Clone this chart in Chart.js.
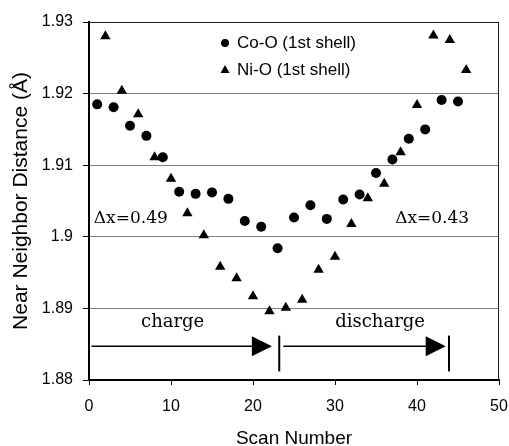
<!DOCTYPE html>
<html>
<head>
<meta charset="utf-8">
<script src="https://cdn.jsdelivr.net/npm/chart.js@4.4.1/dist/chart.umd.min.js"></script>
<style>
  body { margin: 0; background: #fff; }
  #wrap { width: 509px; height: 446px; }
</style>
</head>
<body>
<div id="wrap"><canvas id="showchart" width="509" height="446"></canvas></div>
<script>
// Co-O first shell, odd scans
var coScan = [1, 3, 5, 7, 9, 11, 13, 15, 17, 19, 21, 23, 25, 27, 29, 31, 33, 35, 37, 39, 41, 43, 45];
var coDist = [1.9185, 1.9181, 1.9155, 1.9141, 1.9111, 1.9063, 1.9060, 1.9062, 1.9053, 1.9022, 1.9014, 1.8984,
              1.9027, 1.9044, 1.9025, 1.9052, 1.9059, 1.9089, 1.9108, 1.9137, 1.9150, 1.9191, 1.9189];
// Ni-O first shell, even scans
var niScan = [2, 4, 6, 8, 10, 12, 14, 16, 18, 20, 22, 24, 26, 28, 30, 32, 34, 36, 38, 40, 42, 44, 46];
var niDist = [1.9280, 1.9204, 1.9171, 1.9111, 1.9081, 1.9033, 1.9002, 1.8958, 1.8942, 1.8917, 1.8896, 1.8901,
              1.8912, 1.8954, 1.8972, 1.9018, 1.9054, 1.9074, 1.9118, 1.9184, 1.9281, 1.9275, 1.9233];

var seriesNames = ["Co-O (1st shell)", "Ni-O (1st shell)"];
var xTicks = [0, 10, 20, 30, 40, 50];
var yTicks = [1.88, 1.89, 1.90, 1.91, 1.92, 1.93];

// annotation texts in data coordinates
var labels = [
  {text: "\u0394x=0.49", x: 5.1, y: 1.9026},
  {text: "\u0394x=0.43", x: 41.85, y: 1.9026},
  {text: "charge", x: 10.2, y: 1.888},
  {text: "discharge", x: 35.5, y: 1.888}
];
// arrows: start, tip, end bar
var arrows = [
  {from: 0.3, to: 22.3, bar: 23.2},
  {from: 23.7, to: 43.5, bar: 43.9}
];
var arrowY = 1.8847, barTop = 1.8862, barBottom = 1.8812;

function pts(xs, ys) {
  var out = [];
  for (var i in xs) out.push({x: xs[i], y: ys[i]});
  return out;
}

var extras = {
  id: 'extras',
  afterDatasetsDraw: function(chart) {
    var ctx = chart.ctx, xs = chart.scales.x, ys = chart.scales.y, a = chart.chartArea;
    ctx.save();
    // frame top and right
    ctx.strokeStyle = '#222';
    ctx.lineWidth = 1;
    ctx.beginPath();
    ctx.moveTo(a.left, a.top + 0.5);
    ctx.lineTo(a.right - 0.5, a.top + 0.5);
    ctx.lineTo(a.right - 0.5, a.bottom);
    ctx.stroke();

    // legend
    ctx.fillStyle = '#000';
    ctx.font = '17px "Liberation Sans", Arial, sans-serif';
    ctx.textBaseline = 'middle';
    ctx.textAlign = 'left';
    var lx = 225, ly = [43, 70];
    ctx.beginPath();
    ctx.arc(lx, ly[0], 4, 0, Math.PI * 2);
    ctx.fill();
    ctx.beginPath();
    ctx.moveTo(lx, ly[1] - 5);
    ctx.lineTo(lx + 4.5, ly[1] + 3);
    ctx.lineTo(lx - 4.5, ly[1] + 3);
    ctx.closePath();
    ctx.fill();
    ctx.fillText(seriesNames[0], 237, ly[0]);
    ctx.fillText(seriesNames[1], 237, ly[1]);

    // annotation texts
    ctx.textAlign = 'center';
    for (var i in labels) {
      var l = labels[i];
      ctx.font = (l.text[0] == '\u0394' ? '17px' : '18px') + ' "DejaVu Serif", serif';
      ctx.fillText(l.text, xs.getPixelForValue(l.x), ys.getPixelForValue(l.y));
    }

    // arrows
    var py = ys.getPixelForValue(arrowY);
    for (var j in arrows) {
      var r = arrows[j];
      var x0 = xs.getPixelForValue(r.from), x1 = xs.getPixelForValue(r.to), xb = xs.getPixelForValue(r.bar);
      ctx.lineWidth = 1.5;
      ctx.strokeStyle = '#000';
      ctx.beginPath();
      ctx.moveTo(x0, py);
      ctx.lineTo(x1 - 18, py);
      ctx.stroke();
      ctx.beginPath();
      ctx.moveTo(x1, py);
      ctx.lineTo(x1 - 20, py - 10);
      ctx.lineTo(x1 - 20, py + 10);
      ctx.closePath();
      ctx.fill();
      ctx.lineWidth = 2;
      ctx.beginPath();
      ctx.moveTo(xb, ys.getPixelForValue(barTop));
      ctx.lineTo(xb, ys.getPixelForValue(barBottom));
      ctx.stroke();
    }
    ctx.restore();
  }
};

var ctx = document.getElementById('showchart');
var chart = new Chart(ctx, {
  type: 'scatter',
  data: {
    datasets: [
      {
        label: seriesNames[0],
        data: pts(coScan, coDist),
        pointStyle: 'circle',
        pointRadius: 5,
        backgroundColor: '#000',
        borderColor: '#000',
        borderWidth: 0
      },
      {
        label: seriesNames[1],
        data: pts(niScan, niDist),
        pointStyle: 'triangle',
        pointRadius: 6,
        backgroundColor: '#000',
        borderColor: '#000',
        borderWidth: 0
      }
    ]
  },
  options: {
    responsive: false,
    animation: false,
    events: [],
    layout: { padding: { top: 22, right: 10, left: 0, bottom: 0 } },
    plugins: { legend: { display: false }, tooltip: { enabled: false } },
    scales: {
      x: {
        type: 'linear',
        min: 0, max: 50,
        afterFit: function(s) { s.height = 66; s.paddingRight = 0; s.paddingLeft = 0; },
        afterBuildTicks: function(s) { s.ticks = xTicks.map(function(v) { return {value: v}; }); },
        grid: { drawOnChartArea: false, drawTicks: true, tickLength: 5, tickColor: '#000' },
        border: { color: '#000', width: 2 },
        ticks: { color: '#000', padding: 12, maxRotation: 0, font: { family: '"Liberation Sans", Arial, sans-serif', size: 16 } },
        title: { display: true, text: 'Scan Number', color: '#000', padding: { top: 0, bottom: -2 },
                 font: { family: '"Liberation Sans", Arial, sans-serif', size: 19, lineHeight: 1 } }
      },
      y: {
        min: 1.88, max: 1.93,
        afterFit: function(s) { s.width = 89; s.paddingTop = 0; s.paddingBottom = 0; },
        afterBuildTicks: function(s) { s.ticks = yTicks.map(function(v) { return {value: v}; }); },
        grid: {
          color: function(c) { return c.tick && c.tick.value >= 1.929 ? '#222' : '#808080'; },
          lineWidth: 1, tickLength: 6, tickColor: '#000'
        },
        border: { color: '#000', width: 2 },
        ticks: {
          color: '#000', padding: 10,
          font: { family: '"Liberation Sans", Arial, sans-serif', size: 16 },
          callback: function(v) { return String(Number(v.toFixed(2))); }
        },
        title: { display: true, text: 'Near Neighbor Distance (\u00C5)', color: '#000', padding: { top: 11, bottom: 0 },
                 font: { family: '"Liberation Sans", Arial, sans-serif', size: 21, lineHeight: 1 } }
      }
    }
  },
  plugins: [extras]
});
</script>
</body>
</html>
